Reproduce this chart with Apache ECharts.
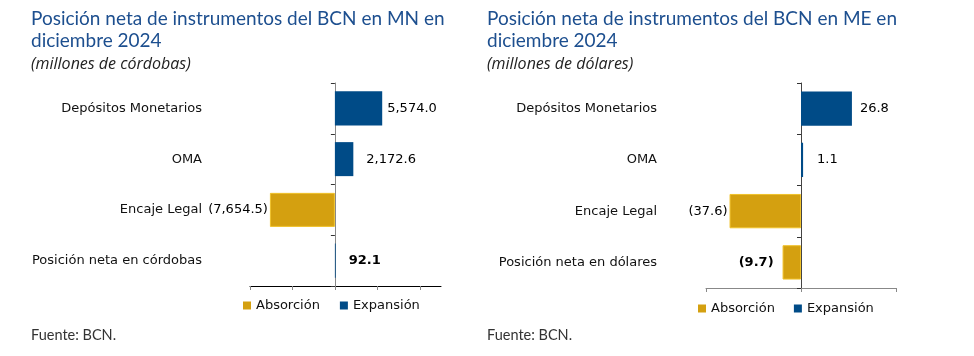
<!DOCTYPE html>
<html>
<head>
<meta charset="utf-8">
<script src="https://cdn.jsdelivr.net/npm/echarts@6/dist/echarts.min.js"></script>
<style>
html,body{margin:0;padding:0;background:#fff;}
#chart{width:974px;height:356px;}
</style>
</head>
<body>
<div id="chart"></div>
<script>
// ---- data ----
var categories = ['Depósitos Monetarios', 'OMA', 'Encaje Legal', 'Posición neta en córdobas'];
var categoriesME = ['Depósitos Monetarios', 'OMA', 'Encaje Legal', 'Posición neta en dólares'];
var valuesMN = [5574.0, 2172.6, -7654.5, 92.1];
var valuesME = [26.8, 1.1, -37.6, -9.7];
var seriesNames = ['Absorción', 'Expansión'];
var titleMN = 'Posición neta de instrumentos del BCN en MN en\ndiciembre 2024';
var titleME = 'Posición neta de instrumentos del BCN en ME en\ndiciembre 2024';
var subMN = '(millones de córdobas)';
var subME = '(millones de dólares)';
var source = 'Fuente: BCN.';
var axisMN = {min: -10000, max: 12500, interval: 5000, ticks: [-10000, -5000, 0, 5000, 10000]};
var axisME = {min: -50, max: 50, interval: 50, ticks: [-50, 0, 50]};

// ---- styles ----
var BLUE = '#004b87', GOLD = '#d4a010', GOLD_BORDER = '#f0c22a';
var TITLE_BLUE = '#1d4f8f';
var FONT = 'DejaVu Sans';
var TFONT = 'Lato';
var gapMN = [5, 13, 2, 13];
var gapME = [8, 14, 2, 9];

function fmt(v) {
  var s = Math.abs(v).toLocaleString('en-US', {minimumFractionDigits: 1, maximumFractionDigits: 1});
  return v < 0 ? '(' + s + ')' : s;
}

function makeSeries(vals, gaps, gridIdx) {
  var last = vals.length - 1;
  function item(v, i) {
    return {
      value: v,
      label: {
        show: true,
        position: v < 0 ? 'left' : 'right',
        distance: gaps[i],
        fontWeight: i === last ? 'bold' : 'normal',
        formatter: function (p) { return fmt(p.value); }
      }
    };
  }
  return [
    {
      name: seriesNames[0], type: 'bar', stack: 's' + gridIdx,
      xAxisIndex: gridIdx, yAxisIndex: gridIdx * 2,
      barCategoryGap: '33%',
      itemStyle: {color: GOLD, borderColor: GOLD_BORDER, borderWidth: 1},
      label: {color: '#000', fontFamily: FONT, fontSize: 13},
      data: vals.map(function (v, i) { return v < 0 ? item(v, i) : '-'; })
    },
    {
      name: seriesNames[1], type: 'bar', stack: 's' + gridIdx,
      xAxisIndex: gridIdx, yAxisIndex: gridIdx * 2,
      barCategoryGap: '33%',
      itemStyle: {color: BLUE},
      label: {color: '#000', fontFamily: FONT, fontSize: 13},
      data: vals.map(function (v, i) { return v >= 0 ? item(v, i) : '-'; })
    }
  ];
}

function makeXAxis(ax, gridIdx, lineColor) {
  return {
    type: 'value', gridIndex: gridIdx,
    min: ax.min, max: ax.max, interval: ax.interval,
    splitLine: {show: false},
    axisLabel: {show: false},
    axisLine: {show: true, lineStyle: {color: lineColor, width: 1}},
    axisTick: {show: true, length: 4, inside: false, customValues: ax.ticks, lineStyle: {color: '#888'}}
  };
}

function makeYAxes(cats, gridIdx, lineColor, margin) {
  return [
    {
      type: 'category', gridIndex: gridIdx, data: cats, inverse: true,
      axisLine: {show: true, onZero: true, lineStyle: {color: lineColor}},
      axisTick: {show: true, length: 4, lineStyle: {color: '#333'}},
      axisLabel: {show: false}
    },
    {
      type: 'category', gridIndex: gridIdx, data: cats, inverse: true, position: 'left',
      axisLine: {show: false, onZero: false},
      axisTick: {show: false},
      axisLabel: {show: true, margin: margin, color: '#111', fontFamily: FONT, fontSize: 13}
    }
  ];
}

var chart = echarts.init(document.getElementById('chart'), null, {renderer: 'canvas'});
var yAxes = makeYAxes(categories, 0, '#888', 48).concat(makeYAxes(categoriesME, 1, '#444', 49));

var titleStyle = {color: TITLE_BLUE, fontFamily: TFONT, fontSize: 19, fontWeight: 'normal', lineHeight: 22};
var subStyle = {color: '#222', fontFamily: 'Open Sans', fontSize: 16, fontStyle: 'italic', fontWeight: 'normal'};
var srcStyle = {color: '#333', fontFamily: TFONT, fontSize: 14.5, fontWeight: 'normal'};
var legendText = {color: '#111', fontFamily: FONT, fontSize: 13};

var option = {
  animation: false,
  backgroundColor: '#fff',
  title: [
    {text: titleMN, left: 31, top: 8, padding: 0, textStyle: titleStyle},
    {text: titleME, left: 487, top: 8, padding: 0, textStyle: titleStyle},
    {text: subMN, left: 31, top: 56, padding: 0, textStyle: subStyle},
    {text: subME, left: 487, top: 56, padding: 0, textStyle: subStyle},
    {text: source, left: 31, top: 328, padding: 0, textStyle: srcStyle},
    {text: source, left: 487, top: 328, padding: 0, textStyle: srcStyle}
  ],
  legend: [
    {data: seriesNames, left: 243, top: 299, padding: 0, itemWidth: 8, itemHeight: 8, itemGap: 20, icon: 'rect',
      itemStyle: {borderWidth: 0}, textStyle: legendText, selectedMode: false},
    {data: seriesNames, left: 698, top: 302, padding: 0, itemWidth: 8, itemHeight: 8, itemGap: 19, icon: 'rect',
      itemStyle: {borderWidth: 0}, textStyle: legendText, selectedMode: false}
  ],
  grid: [
    {left: 250, top: 83, width: 191, height: 203, outerBoundsMode: 'none', containLabel: false},
    {left: 706, top: 83, width: 190, height: 205, outerBoundsMode: 'none', containLabel: false}
  ],
  xAxis: [makeXAxis(axisMN, 0, '#000'), makeXAxis(axisME, 1, '#888')],
  yAxis: yAxes,
  series: makeSeries(valuesMN, gapMN, 0).concat(makeSeries(valuesME, gapME, 1))
};
chart.setOption(option);
</script>
</body>
</html>
